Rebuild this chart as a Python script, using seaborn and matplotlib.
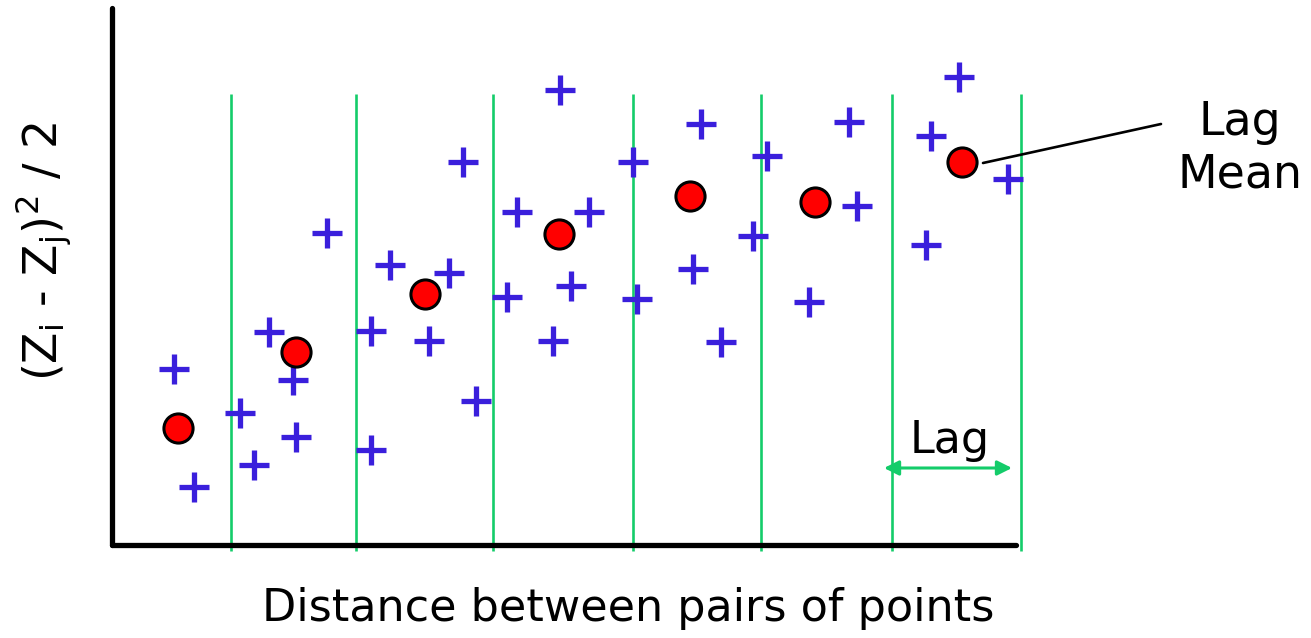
import matplotlib
matplotlib.use("Agg")
import matplotlib.pyplot as plt
import seaborn as sns
import pandas as pd

# Semivariogram cloud: half squared differences against separation distance
pair_dist = [0.62, 0.82, 1.28, 1.42, 1.57, 1.81, 1.84, 2.15, 2.59, 2.59, 2.78, 3.17,
             3.37, 3.51, 3.64, 3.95, 4.05, 4.41, 4.48, 4.59, 4.77, 5.21, 5.25, 5.81,
             5.89, 6.09, 6.41, 6.55, 6.97, 7.37, 7.45, 8.14, 8.19, 8.47, 8.96]
pair_semivar = [1.76, 0.58, 1.32, 0.80, 2.13, 1.65, 1.08, 3.12, 2.14, 0.95, 2.80, 2.04,
                2.72, 3.83, 1.44, 2.48, 3.33, 2.04, 4.55, 2.59, 3.33, 3.83, 2.46, 2.76,
                4.21, 2.03, 3.09, 3.89, 2.43, 4.23, 3.39, 3.00, 4.09, 4.68, 3.66]

# Mean value for each lag class
lag_mean_dist = [0.66, 1.84, 3.13, 4.47, 5.78, 7.03, 8.50]
lag_mean_semivar = [1.17, 1.93, 2.51, 3.11, 3.49, 3.43, 3.83]

# Lag class boundaries
lag_edges = [1.19, 2.44, 3.81, 5.21, 6.49, 7.80, 9.09]

BLUE = "#3a1fdc"
GREEN = "#14cc6a"

sns.set_theme(style="white")
plt.rcParams["font.family"] = ["DejaVu Sans"]
plt.rcParams["text.color"] = "black"

fig = plt.figure(figsize=(13.11, 6.38), dpi=100)
ax = fig.add_axes([112 / 1311, 93 / 638, 904 / 1311, 537 / 638])

cloud = pd.DataFrame({"d": pair_dist, "g": pair_semivar})
means = pd.DataFrame({"d": lag_mean_dist, "g": lag_mean_semivar})

ax.vlines(lag_edges, -0.06, 4.51, colors=GREEN, linewidth=1.9, clip_on=False, zorder=1)

sns.scatterplot(data=cloud, x="d", y="g", marker="+", s=480, linewidth=3.8,
                color=BLUE, ax=ax, zorder=3, clip_on=False)
sns.scatterplot(data=means, x="d", y="g", marker="o", s=440, color="#ff0000",
                edgecolor="black", linewidth=2.2, ax=ax, zorder=4, clip_on=False)

ax.set_xlim(0, 9.04)
ax.set_ylim(0, 5.37)
ax.set_xticks([])
ax.set_yticks([])
ax.set_xlabel("")
ax.set_ylabel("")
for side in ("top", "right"):
    ax.spines[side].set_visible(False)
for side in ("left", "bottom"):
    ax.spines[side].set_color("black")
    ax.spines[side].set_linewidth(3.8)
    ax.spines[side].set_capstyle("round")

# Lag width indicator
ax.annotate("", xy=(7.72, 0.77), xytext=(9.00, 0.77),
            arrowprops=dict(arrowstyle="<|-|>", color=GREEN, lw=2.2,
                            mutation_scale=22, shrinkA=0, shrinkB=0),
            annotation_clip=False)
ax.text(8.38, 1.05, "Lag", ha="center", va="center", fontsize=32, color="black")

# Lag mean callout
ax.plot([8.71, 10.49], [3.82, 4.21], color="black", lw=1.9, clip_on=False)
ax.text(11.28, 3.96, "Lag\nMean", ha="center", va="center", fontsize=33,
        color="black", linespacing=1.22, clip_on=False)

fig.text(628 / 1311, 1 - 608 / 638, "Distance between pairs of points",
         ha="center", va="center", fontsize=32, color="black")
fig.text(44 / 1311, 1 - 252 / 638,
         r"(Z$_\mathregular{i}$ - Z$_\mathregular{j}$)$^\mathregular{2}$ / 2",
         ha="center", va="center", rotation=90, fontsize=33, color="black")

fig.savefig("out.png", dpi=100, facecolor="white")
